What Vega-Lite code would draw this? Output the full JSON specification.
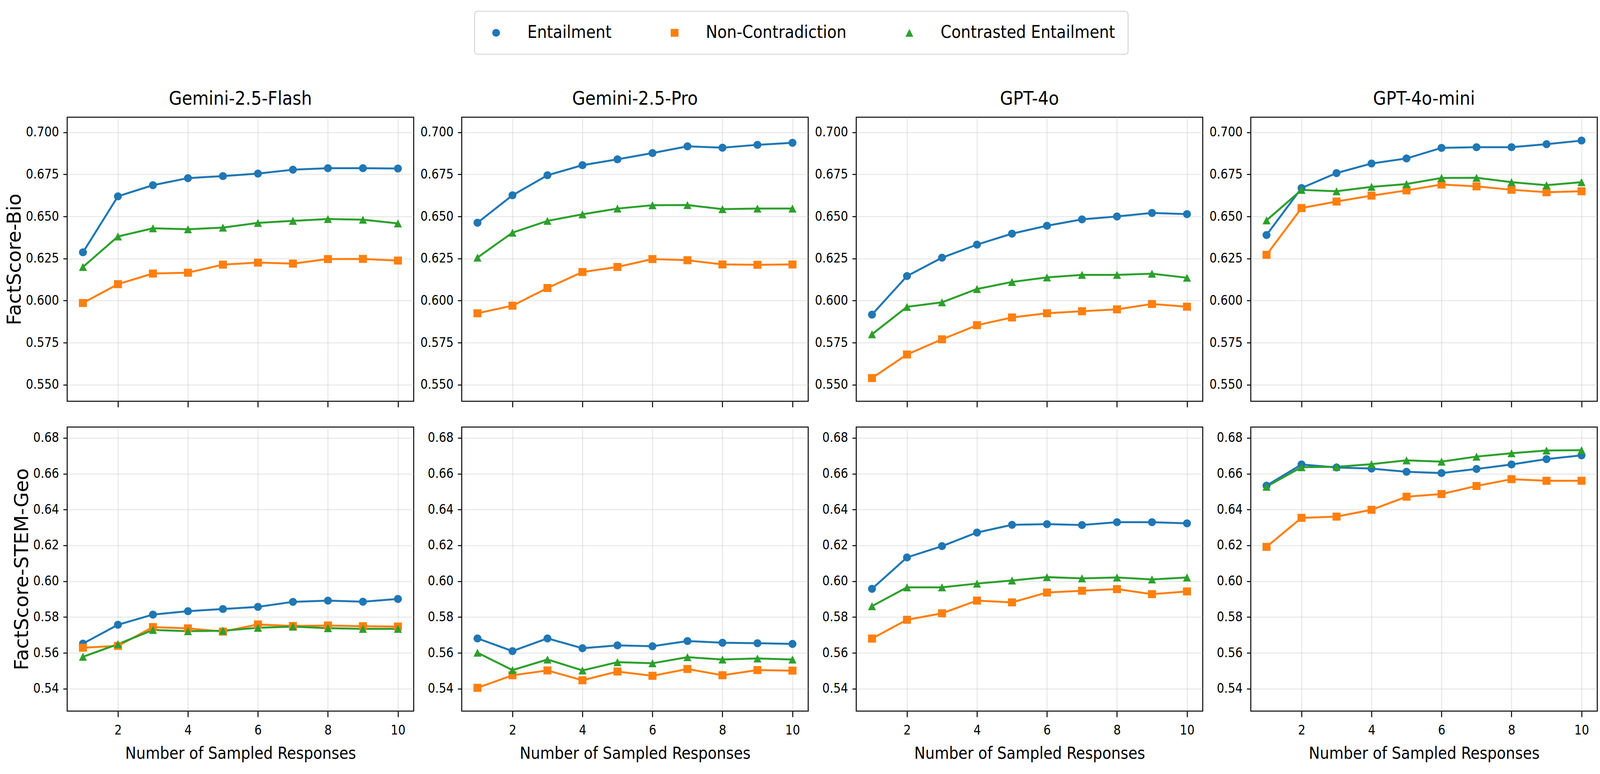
{
"$schema":"https://vega.github.io/schema/vega-lite/v6.json",
"padding":{"left":11,"top":27,"right":3,"bottom":3},
"background":"white",
"data":{"values":[
{"model":"Gemini-2.5-Flash","set":"Bio","method":"Entailment","n":1,"score":0.6287},{"model":"Gemini-2.5-Flash","set":"Bio","method":"Entailment","n":2,"score":0.6620},{"model":"Gemini-2.5-Flash","set":"Bio","method":"Entailment","n":3,"score":0.6686},{"model":"Gemini-2.5-Flash","set":"Bio","method":"Entailment","n":4,"score":0.6728},{"model":"Gemini-2.5-Flash","set":"Bio","method":"Entailment","n":5,"score":0.6740},{"model":"Gemini-2.5-Flash","set":"Bio","method":"Entailment","n":6,"score":0.6755},{"model":"Gemini-2.5-Flash","set":"Bio","method":"Entailment","n":7,"score":0.6778},{"model":"Gemini-2.5-Flash","set":"Bio","method":"Entailment","n":8,"score":0.6787},{"model":"Gemini-2.5-Flash","set":"Bio","method":"Entailment","n":9,"score":0.6787},{"model":"Gemini-2.5-Flash","set":"Bio","method":"Entailment","n":10,"score":0.6785},
{"model":"Gemini-2.5-Flash","set":"Bio","method":"Non-Contradiction","n":1,"score":0.5986},{"model":"Gemini-2.5-Flash","set":"Bio","method":"Non-Contradiction","n":2,"score":0.6098},{"model":"Gemini-2.5-Flash","set":"Bio","method":"Non-Contradiction","n":3,"score":0.6161},{"model":"Gemini-2.5-Flash","set":"Bio","method":"Non-Contradiction","n":4,"score":0.6166},{"model":"Gemini-2.5-Flash","set":"Bio","method":"Non-Contradiction","n":5,"score":0.6214},{"model":"Gemini-2.5-Flash","set":"Bio","method":"Non-Contradiction","n":6,"score":0.6226},{"model":"Gemini-2.5-Flash","set":"Bio","method":"Non-Contradiction","n":7,"score":0.6220},{"model":"Gemini-2.5-Flash","set":"Bio","method":"Non-Contradiction","n":8,"score":0.6247},{"model":"Gemini-2.5-Flash","set":"Bio","method":"Non-Contradiction","n":9,"score":0.6248},{"model":"Gemini-2.5-Flash","set":"Bio","method":"Non-Contradiction","n":10,"score":0.6238},
{"model":"Gemini-2.5-Flash","set":"Bio","method":"Contrasted Entailment","n":1,"score":0.6200},{"model":"Gemini-2.5-Flash","set":"Bio","method":"Contrasted Entailment","n":2,"score":0.6381},{"model":"Gemini-2.5-Flash","set":"Bio","method":"Contrasted Entailment","n":3,"score":0.6430},{"model":"Gemini-2.5-Flash","set":"Bio","method":"Contrasted Entailment","n":4,"score":0.6424},{"model":"Gemini-2.5-Flash","set":"Bio","method":"Contrasted Entailment","n":5,"score":0.6434},{"model":"Gemini-2.5-Flash","set":"Bio","method":"Contrasted Entailment","n":6,"score":0.6462},{"model":"Gemini-2.5-Flash","set":"Bio","method":"Contrasted Entailment","n":7,"score":0.6474},{"model":"Gemini-2.5-Flash","set":"Bio","method":"Contrasted Entailment","n":8,"score":0.6485},{"model":"Gemini-2.5-Flash","set":"Bio","method":"Contrasted Entailment","n":9,"score":0.6481},{"model":"Gemini-2.5-Flash","set":"Bio","method":"Contrasted Entailment","n":10,"score":0.6459},
{"model":"Gemini-2.5-Pro","set":"Bio","method":"Entailment","n":1,"score":0.6463},{"model":"Gemini-2.5-Pro","set":"Bio","method":"Entailment","n":2,"score":0.6626},{"model":"Gemini-2.5-Pro","set":"Bio","method":"Entailment","n":3,"score":0.6745},{"model":"Gemini-2.5-Pro","set":"Bio","method":"Entailment","n":4,"score":0.6805},{"model":"Gemini-2.5-Pro","set":"Bio","method":"Entailment","n":5,"score":0.6840},{"model":"Gemini-2.5-Pro","set":"Bio","method":"Entailment","n":6,"score":0.6877},{"model":"Gemini-2.5-Pro","set":"Bio","method":"Entailment","n":7,"score":0.6917},{"model":"Gemini-2.5-Pro","set":"Bio","method":"Entailment","n":8,"score":0.6909},{"model":"Gemini-2.5-Pro","set":"Bio","method":"Entailment","n":9,"score":0.6926},{"model":"Gemini-2.5-Pro","set":"Bio","method":"Entailment","n":10,"score":0.6938},
{"model":"Gemini-2.5-Pro","set":"Bio","method":"Non-Contradiction","n":1,"score":0.5925},{"model":"Gemini-2.5-Pro","set":"Bio","method":"Non-Contradiction","n":2,"score":0.5970},{"model":"Gemini-2.5-Pro","set":"Bio","method":"Non-Contradiction","n":3,"score":0.6075},{"model":"Gemini-2.5-Pro","set":"Bio","method":"Non-Contradiction","n":4,"score":0.6170},{"model":"Gemini-2.5-Pro","set":"Bio","method":"Non-Contradiction","n":5,"score":0.6200},{"model":"Gemini-2.5-Pro","set":"Bio","method":"Non-Contradiction","n":6,"score":0.6247},{"model":"Gemini-2.5-Pro","set":"Bio","method":"Non-Contradiction","n":7,"score":0.6240},{"model":"Gemini-2.5-Pro","set":"Bio","method":"Non-Contradiction","n":8,"score":0.6215},{"model":"Gemini-2.5-Pro","set":"Bio","method":"Non-Contradiction","n":9,"score":0.6213},{"model":"Gemini-2.5-Pro","set":"Bio","method":"Non-Contradiction","n":10,"score":0.6215},
{"model":"Gemini-2.5-Pro","set":"Bio","method":"Contrasted Entailment","n":1,"score":0.6256},{"model":"Gemini-2.5-Pro","set":"Bio","method":"Contrasted Entailment","n":2,"score":0.6404},{"model":"Gemini-2.5-Pro","set":"Bio","method":"Contrasted Entailment","n":3,"score":0.6474},{"model":"Gemini-2.5-Pro","set":"Bio","method":"Contrasted Entailment","n":4,"score":0.6513},{"model":"Gemini-2.5-Pro","set":"Bio","method":"Contrasted Entailment","n":5,"score":0.6547},{"model":"Gemini-2.5-Pro","set":"Bio","method":"Contrasted Entailment","n":6,"score":0.6567},{"model":"Gemini-2.5-Pro","set":"Bio","method":"Contrasted Entailment","n":7,"score":0.6568},{"model":"Gemini-2.5-Pro","set":"Bio","method":"Contrasted Entailment","n":8,"score":0.6544},{"model":"Gemini-2.5-Pro","set":"Bio","method":"Contrasted Entailment","n":9,"score":0.6547},{"model":"Gemini-2.5-Pro","set":"Bio","method":"Contrasted Entailment","n":10,"score":0.6547},
{"model":"GPT-4o","set":"Bio","method":"Entailment","n":1,"score":0.5917},{"model":"GPT-4o","set":"Bio","method":"Entailment","n":2,"score":0.6146},{"model":"GPT-4o","set":"Bio","method":"Entailment","n":3,"score":0.6255},{"model":"GPT-4o","set":"Bio","method":"Entailment","n":4,"score":0.6333},{"model":"GPT-4o","set":"Bio","method":"Entailment","n":5,"score":0.6398},{"model":"GPT-4o","set":"Bio","method":"Entailment","n":6,"score":0.6445},{"model":"GPT-4o","set":"Bio","method":"Entailment","n":7,"score":0.6483},{"model":"GPT-4o","set":"Bio","method":"Entailment","n":8,"score":0.6500},{"model":"GPT-4o","set":"Bio","method":"Entailment","n":9,"score":0.6521},{"model":"GPT-4o","set":"Bio","method":"Entailment","n":10,"score":0.6514},
{"model":"GPT-4o","set":"Bio","method":"Non-Contradiction","n":1,"score":0.5540},{"model":"GPT-4o","set":"Bio","method":"Non-Contradiction","n":2,"score":0.5680},{"model":"GPT-4o","set":"Bio","method":"Non-Contradiction","n":3,"score":0.5770},{"model":"GPT-4o","set":"Bio","method":"Non-Contradiction","n":4,"score":0.5854},{"model":"GPT-4o","set":"Bio","method":"Non-Contradiction","n":5,"score":0.5900},{"model":"GPT-4o","set":"Bio","method":"Non-Contradiction","n":6,"score":0.5925},{"model":"GPT-4o","set":"Bio","method":"Non-Contradiction","n":7,"score":0.5937},{"model":"GPT-4o","set":"Bio","method":"Non-Contradiction","n":8,"score":0.5948},{"model":"GPT-4o","set":"Bio","method":"Non-Contradiction","n":9,"score":0.5980},{"model":"GPT-4o","set":"Bio","method":"Non-Contradiction","n":10,"score":0.5964},
{"model":"GPT-4o","set":"Bio","method":"Contrasted Entailment","n":1,"score":0.5800},{"model":"GPT-4o","set":"Bio","method":"Contrasted Entailment","n":2,"score":0.5963},{"model":"GPT-4o","set":"Bio","method":"Contrasted Entailment","n":3,"score":0.5990},{"model":"GPT-4o","set":"Bio","method":"Contrasted Entailment","n":4,"score":0.6069},{"model":"GPT-4o","set":"Bio","method":"Contrasted Entailment","n":5,"score":0.6111},{"model":"GPT-4o","set":"Bio","method":"Contrasted Entailment","n":6,"score":0.6138},{"model":"GPT-4o","set":"Bio","method":"Contrasted Entailment","n":7,"score":0.6153},{"model":"GPT-4o","set":"Bio","method":"Contrasted Entailment","n":8,"score":0.6153},{"model":"GPT-4o","set":"Bio","method":"Contrasted Entailment","n":9,"score":0.6160},{"model":"GPT-4o","set":"Bio","method":"Contrasted Entailment","n":10,"score":0.6136},
{"model":"GPT-4o-mini","set":"Bio","method":"Entailment","n":1,"score":0.6390},{"model":"GPT-4o-mini","set":"Bio","method":"Entailment","n":2,"score":0.6669},{"model":"GPT-4o-mini","set":"Bio","method":"Entailment","n":3,"score":0.6758},{"model":"GPT-4o-mini","set":"Bio","method":"Entailment","n":4,"score":0.6815},{"model":"GPT-4o-mini","set":"Bio","method":"Entailment","n":5,"score":0.6845},{"model":"GPT-4o-mini","set":"Bio","method":"Entailment","n":6,"score":0.6908},{"model":"GPT-4o-mini","set":"Bio","method":"Entailment","n":7,"score":0.6912},{"model":"GPT-4o-mini","set":"Bio","method":"Entailment","n":8,"score":0.6912},{"model":"GPT-4o-mini","set":"Bio","method":"Entailment","n":9,"score":0.6930},{"model":"GPT-4o-mini","set":"Bio","method":"Entailment","n":10,"score":0.6951},
{"model":"GPT-4o-mini","set":"Bio","method":"Non-Contradiction","n":1,"score":0.6272},{"model":"GPT-4o-mini","set":"Bio","method":"Non-Contradiction","n":2,"score":0.6550},{"model":"GPT-4o-mini","set":"Bio","method":"Non-Contradiction","n":3,"score":0.6589},{"model":"GPT-4o-mini","set":"Bio","method":"Non-Contradiction","n":4,"score":0.6624},{"model":"GPT-4o-mini","set":"Bio","method":"Non-Contradiction","n":5,"score":0.6655},{"model":"GPT-4o-mini","set":"Bio","method":"Non-Contradiction","n":6,"score":0.6690},{"model":"GPT-4o-mini","set":"Bio","method":"Non-Contradiction","n":7,"score":0.6679},{"model":"GPT-4o-mini","set":"Bio","method":"Non-Contradiction","n":8,"score":0.6659},{"model":"GPT-4o-mini","set":"Bio","method":"Non-Contradiction","n":9,"score":0.6644},{"model":"GPT-4o-mini","set":"Bio","method":"Non-Contradiction","n":10,"score":0.6650},
{"model":"GPT-4o-mini","set":"Bio","method":"Contrasted Entailment","n":1,"score":0.6477},{"model":"GPT-4o-mini","set":"Bio","method":"Contrasted Entailment","n":2,"score":0.6658},{"model":"GPT-4o-mini","set":"Bio","method":"Contrasted Entailment","n":3,"score":0.6650},{"model":"GPT-4o-mini","set":"Bio","method":"Contrasted Entailment","n":4,"score":0.6676},{"model":"GPT-4o-mini","set":"Bio","method":"Contrasted Entailment","n":5,"score":0.6693},{"model":"GPT-4o-mini","set":"Bio","method":"Contrasted Entailment","n":6,"score":0.6729},{"model":"GPT-4o-mini","set":"Bio","method":"Contrasted Entailment","n":7,"score":0.6730},{"model":"GPT-4o-mini","set":"Bio","method":"Contrasted Entailment","n":8,"score":0.6704},{"model":"GPT-4o-mini","set":"Bio","method":"Contrasted Entailment","n":9,"score":0.6686},{"model":"GPT-4o-mini","set":"Bio","method":"Contrasted Entailment","n":10,"score":0.6704},
{"model":"Gemini-2.5-Flash","set":"STEM","method":"Entailment","n":1,"score":0.5652},{"model":"Gemini-2.5-Flash","set":"STEM","method":"Entailment","n":2,"score":0.5757},{"model":"Gemini-2.5-Flash","set":"STEM","method":"Entailment","n":3,"score":0.5814},{"model":"Gemini-2.5-Flash","set":"STEM","method":"Entailment","n":4,"score":0.5833},{"model":"Gemini-2.5-Flash","set":"STEM","method":"Entailment","n":5,"score":0.5845},{"model":"Gemini-2.5-Flash","set":"STEM","method":"Entailment","n":6,"score":0.5857},{"model":"Gemini-2.5-Flash","set":"STEM","method":"Entailment","n":7,"score":0.5885},{"model":"Gemini-2.5-Flash","set":"STEM","method":"Entailment","n":8,"score":0.5892},{"model":"Gemini-2.5-Flash","set":"STEM","method":"Entailment","n":9,"score":0.5886},{"model":"Gemini-2.5-Flash","set":"STEM","method":"Entailment","n":10,"score":0.5901},
{"model":"Gemini-2.5-Flash","set":"STEM","method":"Non-Contradiction","n":1,"score":0.5629},{"model":"Gemini-2.5-Flash","set":"STEM","method":"Non-Contradiction","n":2,"score":0.5639},{"model":"Gemini-2.5-Flash","set":"STEM","method":"Non-Contradiction","n":3,"score":0.5744},{"model":"Gemini-2.5-Flash","set":"STEM","method":"Non-Contradiction","n":4,"score":0.5737},{"model":"Gemini-2.5-Flash","set":"STEM","method":"Non-Contradiction","n":5,"score":0.5719},{"model":"Gemini-2.5-Flash","set":"STEM","method":"Non-Contradiction","n":6,"score":0.5759},{"model":"Gemini-2.5-Flash","set":"STEM","method":"Non-Contradiction","n":7,"score":0.5750},{"model":"Gemini-2.5-Flash","set":"STEM","method":"Non-Contradiction","n":8,"score":0.5753},{"model":"Gemini-2.5-Flash","set":"STEM","method":"Non-Contradiction","n":9,"score":0.5749},{"model":"Gemini-2.5-Flash","set":"STEM","method":"Non-Contradiction","n":10,"score":0.5747},
{"model":"Gemini-2.5-Flash","set":"STEM","method":"Contrasted Entailment","n":1,"score":0.5578},{"model":"Gemini-2.5-Flash","set":"STEM","method":"Contrasted Entailment","n":2,"score":0.5649},{"model":"Gemini-2.5-Flash","set":"STEM","method":"Contrasted Entailment","n":3,"score":0.5728},{"model":"Gemini-2.5-Flash","set":"STEM","method":"Contrasted Entailment","n":4,"score":0.5721},{"model":"Gemini-2.5-Flash","set":"STEM","method":"Contrasted Entailment","n":5,"score":0.5724},{"model":"Gemini-2.5-Flash","set":"STEM","method":"Contrasted Entailment","n":6,"score":0.5740},{"model":"Gemini-2.5-Flash","set":"STEM","method":"Contrasted Entailment","n":7,"score":0.5747},{"model":"Gemini-2.5-Flash","set":"STEM","method":"Contrasted Entailment","n":8,"score":0.5738},{"model":"Gemini-2.5-Flash","set":"STEM","method":"Contrasted Entailment","n":9,"score":0.5734},{"model":"Gemini-2.5-Flash","set":"STEM","method":"Contrasted Entailment","n":10,"score":0.5734},
{"model":"Gemini-2.5-Pro","set":"STEM","method":"Entailment","n":1,"score":0.5681},{"model":"Gemini-2.5-Pro","set":"STEM","method":"Entailment","n":2,"score":0.5610},{"model":"Gemini-2.5-Pro","set":"STEM","method":"Entailment","n":3,"score":0.5681},{"model":"Gemini-2.5-Pro","set":"STEM","method":"Entailment","n":4,"score":0.5626},{"model":"Gemini-2.5-Pro","set":"STEM","method":"Entailment","n":5,"score":0.5642},{"model":"Gemini-2.5-Pro","set":"STEM","method":"Entailment","n":6,"score":0.5637},{"model":"Gemini-2.5-Pro","set":"STEM","method":"Entailment","n":7,"score":0.5666},{"model":"Gemini-2.5-Pro","set":"STEM","method":"Entailment","n":8,"score":0.5657},{"model":"Gemini-2.5-Pro","set":"STEM","method":"Entailment","n":9,"score":0.5654},{"model":"Gemini-2.5-Pro","set":"STEM","method":"Entailment","n":10,"score":0.5650},
{"model":"Gemini-2.5-Pro","set":"STEM","method":"Non-Contradiction","n":1,"score":0.5405},{"model":"Gemini-2.5-Pro","set":"STEM","method":"Non-Contradiction","n":2,"score":0.5475},{"model":"Gemini-2.5-Pro","set":"STEM","method":"Non-Contradiction","n":3,"score":0.5502},{"model":"Gemini-2.5-Pro","set":"STEM","method":"Non-Contradiction","n":4,"score":0.5447},{"model":"Gemini-2.5-Pro","set":"STEM","method":"Non-Contradiction","n":5,"score":0.5496},{"model":"Gemini-2.5-Pro","set":"STEM","method":"Non-Contradiction","n":6,"score":0.5472},{"model":"Gemini-2.5-Pro","set":"STEM","method":"Non-Contradiction","n":7,"score":0.5510},{"model":"Gemini-2.5-Pro","set":"STEM","method":"Non-Contradiction","n":8,"score":0.5475},{"model":"Gemini-2.5-Pro","set":"STEM","method":"Non-Contradiction","n":9,"score":0.5504},{"model":"Gemini-2.5-Pro","set":"STEM","method":"Non-Contradiction","n":10,"score":0.5501},
{"model":"Gemini-2.5-Pro","set":"STEM","method":"Contrasted Entailment","n":1,"score":0.5601},{"model":"Gemini-2.5-Pro","set":"STEM","method":"Contrasted Entailment","n":2,"score":0.5504},{"model":"Gemini-2.5-Pro","set":"STEM","method":"Contrasted Entailment","n":3,"score":0.5563},{"model":"Gemini-2.5-Pro","set":"STEM","method":"Contrasted Entailment","n":4,"score":0.5502},{"model":"Gemini-2.5-Pro","set":"STEM","method":"Contrasted Entailment","n":5,"score":0.5548},{"model":"Gemini-2.5-Pro","set":"STEM","method":"Contrasted Entailment","n":6,"score":0.5542},{"model":"Gemini-2.5-Pro","set":"STEM","method":"Contrasted Entailment","n":7,"score":0.5576},{"model":"Gemini-2.5-Pro","set":"STEM","method":"Contrasted Entailment","n":8,"score":0.5563},{"model":"Gemini-2.5-Pro","set":"STEM","method":"Contrasted Entailment","n":9,"score":0.5569},{"model":"Gemini-2.5-Pro","set":"STEM","method":"Contrasted Entailment","n":10,"score":0.5563},
{"model":"GPT-4o","set":"STEM","method":"Entailment","n":1,"score":0.5958},{"model":"GPT-4o","set":"STEM","method":"Entailment","n":2,"score":0.6133},{"model":"GPT-4o","set":"STEM","method":"Entailment","n":3,"score":0.6196},{"model":"GPT-4o","set":"STEM","method":"Entailment","n":4,"score":0.6272},{"model":"GPT-4o","set":"STEM","method":"Entailment","n":5,"score":0.6315},{"model":"GPT-4o","set":"STEM","method":"Entailment","n":6,"score":0.6319},{"model":"GPT-4o","set":"STEM","method":"Entailment","n":7,"score":0.6314},{"model":"GPT-4o","set":"STEM","method":"Entailment","n":8,"score":0.6330},{"model":"GPT-4o","set":"STEM","method":"Entailment","n":9,"score":0.6330},{"model":"GPT-4o","set":"STEM","method":"Entailment","n":10,"score":0.6323},
{"model":"GPT-4o","set":"STEM","method":"Non-Contradiction","n":1,"score":0.5680},{"model":"GPT-4o","set":"STEM","method":"Non-Contradiction","n":2,"score":0.5785},{"model":"GPT-4o","set":"STEM","method":"Non-Contradiction","n":3,"score":0.5821},{"model":"GPT-4o","set":"STEM","method":"Non-Contradiction","n":4,"score":0.5892},{"model":"GPT-4o","set":"STEM","method":"Non-Contradiction","n":5,"score":0.5882},{"model":"GPT-4o","set":"STEM","method":"Non-Contradiction","n":6,"score":0.5937},{"model":"GPT-4o","set":"STEM","method":"Non-Contradiction","n":7,"score":0.5947},{"model":"GPT-4o","set":"STEM","method":"Non-Contradiction","n":8,"score":0.5956},{"model":"GPT-4o","set":"STEM","method":"Non-Contradiction","n":9,"score":0.5928},{"model":"GPT-4o","set":"STEM","method":"Non-Contradiction","n":10,"score":0.5943},
{"model":"GPT-4o","set":"STEM","method":"Contrasted Entailment","n":1,"score":0.5861},{"model":"GPT-4o","set":"STEM","method":"Contrasted Entailment","n":2,"score":0.5966},{"model":"GPT-4o","set":"STEM","method":"Contrasted Entailment","n":3,"score":0.5966},{"model":"GPT-4o","set":"STEM","method":"Contrasted Entailment","n":4,"score":0.5987},{"model":"GPT-4o","set":"STEM","method":"Contrasted Entailment","n":5,"score":0.6004},{"model":"GPT-4o","set":"STEM","method":"Contrasted Entailment","n":6,"score":0.6023},{"model":"GPT-4o","set":"STEM","method":"Contrasted Entailment","n":7,"score":0.6016},{"model":"GPT-4o","set":"STEM","method":"Contrasted Entailment","n":8,"score":0.6021},{"model":"GPT-4o","set":"STEM","method":"Contrasted Entailment","n":9,"score":0.6010},{"model":"GPT-4o","set":"STEM","method":"Contrasted Entailment","n":10,"score":0.6021},
{"model":"GPT-4o-mini","set":"STEM","method":"Entailment","n":1,"score":0.6534},{"model":"GPT-4o-mini","set":"STEM","method":"Entailment","n":2,"score":0.6652},{"model":"GPT-4o-mini","set":"STEM","method":"Entailment","n":3,"score":0.6635},{"model":"GPT-4o-mini","set":"STEM","method":"Entailment","n":4,"score":0.6629},{"model":"GPT-4o-mini","set":"STEM","method":"Entailment","n":5,"score":0.6611},{"model":"GPT-4o-mini","set":"STEM","method":"Entailment","n":6,"score":0.6604},{"model":"GPT-4o-mini","set":"STEM","method":"Entailment","n":7,"score":0.6627},{"model":"GPT-4o-mini","set":"STEM","method":"Entailment","n":8,"score":0.6652},{"model":"GPT-4o-mini","set":"STEM","method":"Entailment","n":9,"score":0.6682},{"model":"GPT-4o-mini","set":"STEM","method":"Entailment","n":10,"score":0.6703},
{"model":"GPT-4o-mini","set":"STEM","method":"Non-Contradiction","n":1,"score":0.6192},{"model":"GPT-4o-mini","set":"STEM","method":"Non-Contradiction","n":2,"score":0.6354},{"model":"GPT-4o-mini","set":"STEM","method":"Non-Contradiction","n":3,"score":0.6361},{"model":"GPT-4o-mini","set":"STEM","method":"Non-Contradiction","n":4,"score":0.6399},{"model":"GPT-4o-mini","set":"STEM","method":"Non-Contradiction","n":5,"score":0.6472},{"model":"GPT-4o-mini","set":"STEM","method":"Non-Contradiction","n":6,"score":0.6487},{"model":"GPT-4o-mini","set":"STEM","method":"Non-Contradiction","n":7,"score":0.6532},{"model":"GPT-4o-mini","set":"STEM","method":"Non-Contradiction","n":8,"score":0.6570},{"model":"GPT-4o-mini","set":"STEM","method":"Non-Contradiction","n":9,"score":0.6561},{"model":"GPT-4o-mini","set":"STEM","method":"Non-Contradiction","n":10,"score":0.6561},
{"model":"GPT-4o-mini","set":"STEM","method":"Contrasted Entailment","n":1,"score":0.6528},{"model":"GPT-4o-mini","set":"STEM","method":"Contrasted Entailment","n":2,"score":0.6637},{"model":"GPT-4o-mini","set":"STEM","method":"Contrasted Entailment","n":3,"score":0.6639},{"model":"GPT-4o-mini","set":"STEM","method":"Contrasted Entailment","n":4,"score":0.6654},{"model":"GPT-4o-mini","set":"STEM","method":"Contrasted Entailment","n":5,"score":0.6675},{"model":"GPT-4o-mini","set":"STEM","method":"Contrasted Entailment","n":6,"score":0.6668},{"model":"GPT-4o-mini","set":"STEM","method":"Contrasted Entailment","n":7,"score":0.6696},{"model":"GPT-4o-mini","set":"STEM","method":"Contrasted Entailment","n":8,"score":0.6715},{"model":"GPT-4o-mini","set":"STEM","method":"Contrasted Entailment","n":9,"score":0.6730},{"model":"GPT-4o-mini","set":"STEM","method":"Contrasted Entailment","n":10,"score":0.6732}
]},
"columns":4,
"bounds":"flush",
"spacing":{"row":66,"column":123},
"concat":[
{"width":887,"height":727,
 "title":{"text":"Gemini-2.5-Flash","frame":"group","anchor":"middle","offset":-16,"baseline":"alphabetic"},
 "transform":[{"filter":"datum.model==='Gemini-2.5-Flash'&&datum.set==='Bio'"}],
 "encoding":{
  "x":{"field":"n","type":"quantitative","scale":{"domain":[0.55,10.45],"nice":false,"zero":false},"axis":{"values":[2,4,6,8,10],"labels":false,"title":null}},
  "y":{"field":"score","type":"quantitative","scale":{"domain":[0.5402,0.709],"nice":false,"zero":false},"axis":{"values":[0.55,0.575,0.6,0.625,0.65,0.675,0.7],"format":".3f","title":"FactScore-Bio"}},
  "color":{"field":"method","type":"nominal","scale":{"domain":["Entailment","Non-Contradiction","Contrasted Entailment"],"range":["#1f77b4","#ff7f0e","#2ca02c"]},"legend":{"title":null,"orient":"none","legendX":1043,"legendY":-271,"direction":"horizontal"}}
 },
 "layer":[
  {"mark":{"type":"line","strokeWidth":5}},
  {"mark":{"type":"point","filled":true,"size":420,"opacity":1},"encoding":{"shape":{"field":"method","type":"nominal","scale":{"domain":["Entailment","Non-Contradiction","Contrasted Entailment"],"range":["circle","square","M0,-1L1,1L-1,1Z"]},"legend":null}}}
 ]},
{"width":887,"height":727,
 "title":{"text":"Gemini-2.5-Pro","frame":"group","anchor":"middle","offset":-16,"baseline":"alphabetic"},
 "transform":[{"filter":"datum.model==='Gemini-2.5-Pro'&&datum.set==='Bio'"}],
 "encoding":{
  "x":{"field":"n","type":"quantitative","scale":{"domain":[0.55,10.45],"nice":false,"zero":false},"axis":{"values":[2,4,6,8,10],"labels":false,"title":null}},
  "y":{"field":"score","type":"quantitative","scale":{"domain":[0.5402,0.709],"nice":false,"zero":false},"axis":{"values":[0.55,0.575,0.6,0.625,0.65,0.675,0.7],"format":".3f","title":null}},
  "color":{"field":"method","type":"nominal","scale":{"domain":["Entailment","Non-Contradiction","Contrasted Entailment"],"range":["#1f77b4","#ff7f0e","#2ca02c"]},"legend":{"title":null,"orient":"none","legendX":1043,"legendY":-271,"direction":"horizontal"}}
 },
 "layer":[
  {"mark":{"type":"line","strokeWidth":5}},
  {"mark":{"type":"point","filled":true,"size":420,"opacity":1},"encoding":{"shape":{"field":"method","type":"nominal","scale":{"domain":["Entailment","Non-Contradiction","Contrasted Entailment"],"range":["circle","square","M0,-1L1,1L-1,1Z"]},"legend":null}}}
 ]},
{"width":887,"height":727,
 "title":{"text":"GPT-4o","frame":"group","anchor":"middle","offset":-16,"baseline":"alphabetic"},
 "transform":[{"filter":"datum.model==='GPT-4o'&&datum.set==='Bio'"}],
 "encoding":{
  "x":{"field":"n","type":"quantitative","scale":{"domain":[0.55,10.45],"nice":false,"zero":false},"axis":{"values":[2,4,6,8,10],"labels":false,"title":null}},
  "y":{"field":"score","type":"quantitative","scale":{"domain":[0.5402,0.709],"nice":false,"zero":false},"axis":{"values":[0.55,0.575,0.6,0.625,0.65,0.675,0.7],"format":".3f","title":null}},
  "color":{"field":"method","type":"nominal","scale":{"domain":["Entailment","Non-Contradiction","Contrasted Entailment"],"range":["#1f77b4","#ff7f0e","#2ca02c"]},"legend":{"title":null,"orient":"none","legendX":1043,"legendY":-271,"direction":"horizontal"}}
 },
 "layer":[
  {"mark":{"type":"line","strokeWidth":5}},
  {"mark":{"type":"point","filled":true,"size":420,"opacity":1},"encoding":{"shape":{"field":"method","type":"nominal","scale":{"domain":["Entailment","Non-Contradiction","Contrasted Entailment"],"range":["circle","square","M0,-1L1,1L-1,1Z"]},"legend":null}}}
 ]},
{"width":887,"height":727,
 "title":{"text":"GPT-4o-mini","frame":"group","anchor":"middle","offset":-16,"baseline":"alphabetic"},
 "transform":[{"filter":"datum.model==='GPT-4o-mini'&&datum.set==='Bio'"}],
 "encoding":{
  "x":{"field":"n","type":"quantitative","scale":{"domain":[0.55,10.45],"nice":false,"zero":false},"axis":{"values":[2,4,6,8,10],"labels":false,"title":null}},
  "y":{"field":"score","type":"quantitative","scale":{"domain":[0.5402,0.709],"nice":false,"zero":false},"axis":{"values":[0.55,0.575,0.6,0.625,0.65,0.675,0.7],"format":".3f","title":null}},
  "color":{"field":"method","type":"nominal","scale":{"domain":["Entailment","Non-Contradiction","Contrasted Entailment"],"range":["#1f77b4","#ff7f0e","#2ca02c"]},"legend":{"title":null,"orient":"none","legendX":1043,"legendY":-271,"direction":"horizontal"}}
 },
 "layer":[
  {"mark":{"type":"line","strokeWidth":5}},
  {"mark":{"type":"point","filled":true,"size":420,"opacity":1},"encoding":{"shape":{"field":"method","type":"nominal","scale":{"domain":["Entailment","Non-Contradiction","Contrasted Entailment"],"range":["circle","square","M0,-1L1,1L-1,1Z"]},"legend":null}}}
 ]},
{"width":887,"height":727,
 "transform":[{"filter":"datum.model==='Gemini-2.5-Flash'&&datum.set==='STEM'"}],
 "encoding":{
  "x":{"field":"n","type":"quantitative","scale":{"domain":[0.55,10.45],"nice":false,"zero":false},"axis":{"values":[2,4,6,8,10],"title":"Number of Sampled Responses"}},
  "y":{"field":"score","type":"quantitative","scale":{"domain":[0.5275,0.6861],"nice":false,"zero":false},"axis":{"values":[0.54,0.56,0.58,0.6,0.62,0.64,0.66,0.68],"format":".2f","title":"FactScore-STEM-Geo"}},
  "color":{"field":"method","type":"nominal","scale":{"domain":["Entailment","Non-Contradiction","Contrasted Entailment"],"range":["#1f77b4","#ff7f0e","#2ca02c"]},"legend":{"title":null,"orient":"none","legendX":1043,"legendY":-271,"direction":"horizontal"}}
 },
 "layer":[
  {"mark":{"type":"line","strokeWidth":5}},
  {"mark":{"type":"point","filled":true,"size":420,"opacity":1},"encoding":{"shape":{"field":"method","type":"nominal","scale":{"domain":["Entailment","Non-Contradiction","Contrasted Entailment"],"range":["circle","square","M0,-1L1,1L-1,1Z"]},"legend":null}}}
 ]},
{"width":887,"height":727,
 "transform":[{"filter":"datum.model==='Gemini-2.5-Pro'&&datum.set==='STEM'"}],
 "encoding":{
  "x":{"field":"n","type":"quantitative","scale":{"domain":[0.55,10.45],"nice":false,"zero":false},"axis":{"values":[2,4,6,8,10],"title":"Number of Sampled Responses"}},
  "y":{"field":"score","type":"quantitative","scale":{"domain":[0.5275,0.6861],"nice":false,"zero":false},"axis":{"values":[0.54,0.56,0.58,0.6,0.62,0.64,0.66,0.68],"format":".2f","title":null}},
  "color":{"field":"method","type":"nominal","scale":{"domain":["Entailment","Non-Contradiction","Contrasted Entailment"],"range":["#1f77b4","#ff7f0e","#2ca02c"]},"legend":{"title":null,"orient":"none","legendX":1043,"legendY":-271,"direction":"horizontal"}}
 },
 "layer":[
  {"mark":{"type":"line","strokeWidth":5}},
  {"mark":{"type":"point","filled":true,"size":420,"opacity":1},"encoding":{"shape":{"field":"method","type":"nominal","scale":{"domain":["Entailment","Non-Contradiction","Contrasted Entailment"],"range":["circle","square","M0,-1L1,1L-1,1Z"]},"legend":null}}}
 ]},
{"width":887,"height":727,
 "transform":[{"filter":"datum.model==='GPT-4o'&&datum.set==='STEM'"}],
 "encoding":{
  "x":{"field":"n","type":"quantitative","scale":{"domain":[0.55,10.45],"nice":false,"zero":false},"axis":{"values":[2,4,6,8,10],"title":"Number of Sampled Responses"}},
  "y":{"field":"score","type":"quantitative","scale":{"domain":[0.5275,0.6861],"nice":false,"zero":false},"axis":{"values":[0.54,0.56,0.58,0.6,0.62,0.64,0.66,0.68],"format":".2f","title":null}},
  "color":{"field":"method","type":"nominal","scale":{"domain":["Entailment","Non-Contradiction","Contrasted Entailment"],"range":["#1f77b4","#ff7f0e","#2ca02c"]},"legend":{"title":null,"orient":"none","legendX":1043,"legendY":-271,"direction":"horizontal"}}
 },
 "layer":[
  {"mark":{"type":"line","strokeWidth":5}},
  {"mark":{"type":"point","filled":true,"size":420,"opacity":1},"encoding":{"shape":{"field":"method","type":"nominal","scale":{"domain":["Entailment","Non-Contradiction","Contrasted Entailment"],"range":["circle","square","M0,-1L1,1L-1,1Z"]},"legend":null}}}
 ]},
{"width":887,"height":727,
 "transform":[{"filter":"datum.model==='GPT-4o-mini'&&datum.set==='STEM'"}],
 "encoding":{
  "x":{"field":"n","type":"quantitative","scale":{"domain":[0.55,10.45],"nice":false,"zero":false},"axis":{"values":[2,4,6,8,10],"title":"Number of Sampled Responses"}},
  "y":{"field":"score","type":"quantitative","scale":{"domain":[0.5275,0.6861],"nice":false,"zero":false},"axis":{"values":[0.54,0.56,0.58,0.6,0.62,0.64,0.66,0.68],"format":".2f","title":null}},
  "color":{"field":"method","type":"nominal","scale":{"domain":["Entailment","Non-Contradiction","Contrasted Entailment"],"range":["#1f77b4","#ff7f0e","#2ca02c"]},"legend":{"title":null,"orient":"none","legendX":1043,"legendY":-271,"direction":"horizontal"}}
 },
 "layer":[
  {"mark":{"type":"line","strokeWidth":5}},
  {"mark":{"type":"point","filled":true,"size":420,"opacity":1},"encoding":{"shape":{"field":"method","type":"nominal","scale":{"domain":["Entailment","Non-Contradiction","Contrasted Entailment"],"range":["circle","square","M0,-1L1,1L-1,1Z"]},"legend":null}}}
 ]}
],
"config":{
 "font":"DejaVu Sans Condensed, Liberation Sans, sans-serif",
 "view":{"stroke":"black","strokeWidth":2.5},
 "axis":{"labelFont":"DejaVu Sans Condensed, Liberation Sans, sans-serif","labelFontSize":33,"titleFontWeight":"normal","labelColor":"black","titleColor":"black","tickColor":"black","tickWidth":2.5,"grid":true,"gridColor":"#b0b0b0","gridOpacity":0.3,"gridWidth":2.5,"domain":false},
 "axisX":{"tickSize":15,"labelPadding":18,"titlePadding":22,"titleFontSize":42,"titleFont":"DejaVu Sans Condensed, Liberation Sans, sans-serif"},
 "axisY":{"tickSize":10.3,"labelPadding":11,"titlePadding":3,"titleFontSize":50,"titleFont":"DejaVu Sans"},
 "title":{"font":"DejaVu Sans Condensed, Liberation Sans, sans-serif","fontSize":48,"fontWeight":"normal","color":"black"},
 "legend":{"labelFont":"DejaVu Sans Condensed, Liberation Sans, sans-serif","labelFontSize":44,"labelColor":"black","labelLimit":3000,"symbolSize":400,"symbolStrokeWidth":0,"columnPadding":139,"labelOffset":58,"padding":33,"strokeColor":"#d6d6d6","strokeWidth":2.5,"cornerRadius":8,"fillColor":"white"}
}
}
